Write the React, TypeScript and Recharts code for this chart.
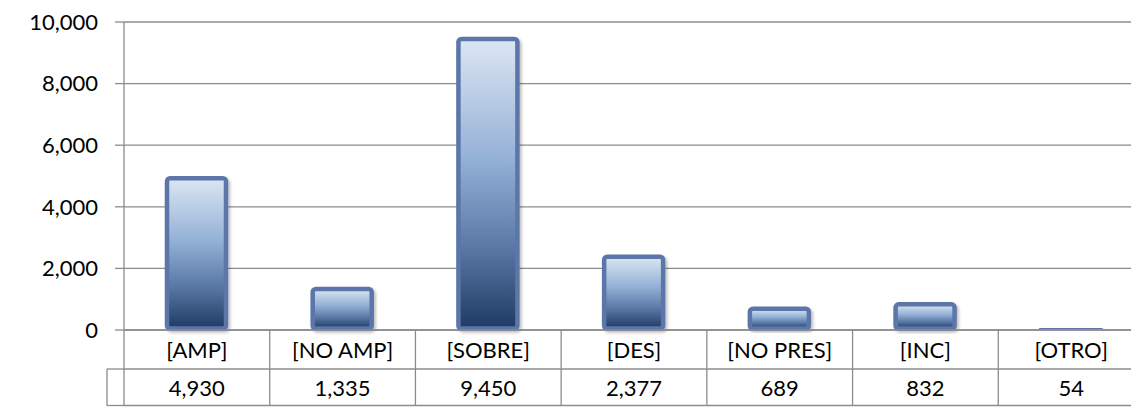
import { BarChart, Bar, XAxis, YAxis, CartesianGrid } from "recharts";

const categories = ["[AMP]", "[NO AMP]", "[SOBRE]", "[DES]", "[NO PRES]", "[INC]", "[OTRO]"];
const counts = [4930, 1335, 9450, 2377, 689, 832, 54];
const yTicks = [0, 2000, 4000, 6000, 8000, 10000];

const data = categories.map((name, i) => ({ name, value: counts[i] }));

// the plot runs a bit past the right edge of the picture, like the original
const CHART_W = 1160;
const CHART_H = 407;
const PLOT_LEFT = 124;
const PLOT_RIGHT = 1144;
const COL_W = (PLOT_RIGHT - PLOT_LEFT) / categories.length;
const ROW1 = 39;
const ROW2 = 37;
const LINE = "#8c8c8c";
const FONT = "Lato, 'Open Sans', sans-serif";
const FONT_SIZE = 22;

const fmt = (v: number) => v.toLocaleString("en-US");

// draws one column of the data table under the axis
function TableTick(props: any) {
  const { x, y, payload, index } = props;
  const left = x - COL_W / 2;
  const right = x + COL_W / 2;
  const bottom = y + ROW1 + ROW2;
  return (
    <g>
      <text x={x} y={y + ROW1 / 2} textAnchor="middle" dominantBaseline="central"
        fontFamily={FONT} fontSize={FONT_SIZE} fill="#000">
        {payload.value}
      </text>
      <text x={x} y={y + ROW1 + ROW2 / 2} textAnchor="middle" dominantBaseline="central"
        fontFamily={FONT} fontSize={FONT_SIZE} fill="#000">
        {fmt(counts[index])}
      </text>
      <line x1={right} y1={y} x2={right} y2={bottom} stroke={LINE} strokeWidth={1.3} />
      <line x1={left} y1={y + ROW1} x2={right} y2={y + ROW1} stroke={LINE} strokeWidth={1.3} />
      <line x1={left} y1={bottom - 0.5} x2={right} y2={bottom - 0.5} stroke={LINE} strokeWidth={1.3} />
      {index === 0 && (
        <g>
          <line x1={left} y1={y} x2={left} y2={bottom} stroke={LINE} strokeWidth={1.3} />
          <line x1={left - 17} y1={y + ROW1} x2={left} y2={y + ROW1} stroke={LINE} strokeWidth={1.3} />
          <line x1={left - 17} y1={bottom - 0.5} x2={left} y2={bottom - 0.5} stroke={LINE} strokeWidth={1.3} />
          <line x1={left - 17} y1={y + ROW1} x2={left - 17} y2={bottom} stroke={LINE} strokeWidth={1.3} />
        </g>
      )}
    </g>
  );
}

function GradientBar(props: any) {
  const { x, y, width, height } = props;
  if (height == null || height <= 0) return null;
  return (
    <rect
      x={x}
      y={y}
      width={width}
      height={Math.max(height - 1.5, 0.2)}
      rx={3}
      ry={3}
      fill="url(#barFill)"
      stroke="#5b76a9"
      strokeWidth={4.5}
      filter="url(#barShadow)"
    />
  );
}

export default function App() {
  return (
    <div style={{ position: "fixed", top: 0, left: 0, width: 1131, height: 407, overflow: "hidden", background: "#fff" }}>
      <BarChart
        width={CHART_W}
        height={CHART_H}
        data={data}
        margin={{ top: 22, right: CHART_W - PLOT_RIGHT, bottom: 0, left: 0 }}
      >
        <defs>
          <linearGradient id="barFill" x1="0" y1="0" x2="0" y2="1">
            <stop offset="0%" stopColor="#dce6f2" />
            <stop offset="40%" stopColor="#96b3d8" />
            <stop offset="72%" stopColor="#5a78a6" />
            <stop offset="100%" stopColor="#1f3a62" />
          </linearGradient>
          <filter id="barShadow" x="-20%" y="-20%" width="140%" height="140%">
            <feDropShadow dx="2" dy="2" stdDeviation="1.5" floodColor="#000" floodOpacity="0.25" />
          </filter>
        </defs>
        <CartesianGrid vertical={false} stroke={LINE} strokeWidth={1.3} />
        <YAxis
          width={PLOT_LEFT}
          domain={[0, 10000]}
          ticks={yTicks}
          tickFormatter={fmt}
          axisLine={{ stroke: LINE, strokeWidth: 1.3 }}
          tickLine={{ stroke: LINE, strokeWidth: 1.3 }}
          tickSize={9}
          tickMargin={17}
          tick={{ fill: "#000", fontSize: FONT_SIZE, fontFamily: FONT }}
        />
        <XAxis
          dataKey="name"
          height={CHART_H - 330}
          interval={0}
          tickSize={0}
          tickMargin={0}
          tickLine={false}
          axisLine={{ stroke: LINE, strokeWidth: 1.3 }}
          tick={<TableTick />}
        />
        <Bar dataKey="value" barSize={59} shape={<GradientBar />} isAnimationActive={false} />
      </BarChart>
    </div>
  );
}
